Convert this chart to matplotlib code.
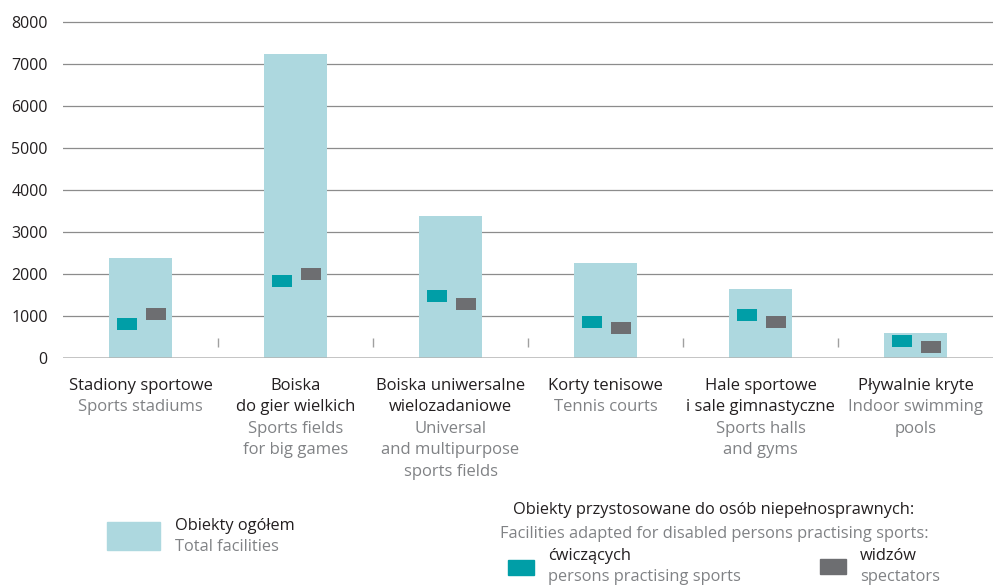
import matplotlib.pyplot as plt
from matplotlib.patches import Rectangle
import numpy as np

plt.rcParams['font.family'] = ['Open Sans', 'DejaVu Sans']

# dane
kategorie_pl = [['Stadiony sportowe'], ['Boiska', 'do gier wielkich'],
                ['Boiska uniwersalne', 'wielozadaniowe'], ['Korty tenisowe'],
                ['Hale sportowe', 'i sale gimnastyczne'], ['Pływalnie kryte']]
kategorie_en = [['Sports stadiums'], ['Sports fields', 'for big games'],
                ['Universal', 'and multipurpose', 'sports fields'], ['Tennis courts'],
                ['Sports halls', 'and gyms'], ['Indoor swimming', 'pools']]
ogolem = [2395, 7250, 3390, 2270, 1650, 600]
cwiczacych = [820, 1840, 1480, 860, 1030, 410]
widzow = [1050, 2010, 1290, 720, 860, 270]
y_ticks = [0, 1000, 2000, 3000, 4000, 5000, 6000, 7000, 8000]

c_jasny = '#add8df'
c_morski = '#009ea7'
c_szary = '#6d6e71'
c_tekst = '#231f20'
c_en = '#808285'

fig = plt.figure(figsize=(9.97, 5.86), dpi=100)
ax = fig.add_axes([63 / 997, 1 - 358.3 / 586, 930 / 997, (358.3 - 20) / 586])

x = np.arange(len(ogolem))
ax.bar(x, ogolem, width=0.406, color=c_jasny, zorder=2)
h = 286
ax.bar(x - 0.087, [h] * len(x), bottom=np.array(cwiczacych) - h / 2,
       width=0.129, color=c_morski, zorder=3)
ax.bar(x + 0.100, [h] * len(x), bottom=np.array(widzow) - h / 2,
       width=0.129, color=c_szary, zorder=3)

ax.set_xlim(-0.5, 5.5)
ax.set_ylim(0, 8055)
ax.set_yticks(y_ticks)
ax.set_yticklabels([str(v) for v in y_ticks], fontsize=11.5, color=c_tekst)
ax.tick_params(axis='y', length=0, pad=11)
ax.set_xticks([])
for s in ax.spines.values():
    s.set_visible(False)
for v in y_ticks[1:]:
    ax.axhline(v, color='#8c8c8c', lw=0.9, zorder=1)
ax.axhline(0, color='#b3b3b3', lw=1.8, zorder=4)
ax.vlines(x[:-1] + 0.5, 270, 480, color='#a0a0a0', lw=1, zorder=1)

# podpisy kategorii
for i in range(len(x)):
    linie = [(t, c_tekst) for t in kategorie_pl[i]] + [(t, c_en) for t in kategorie_en[i]]
    for j, (t, c) in enumerate(linie):
        ax.annotate(t, xy=(x[i], 0), xytext=(0, -(27.5 + 21.5 * j) * 0.72),
                    textcoords='offset points', ha='center', va='center',
                    fontsize=12, color=c)

# legenda
fs = 11.8
fig.patches.append(Rectangle((107 / 997, 1 - 550 / 586), 53 / 997, 28 / 586,
                             transform=fig.transFigure, color=c_jasny))
fig.text(175 / 997, 1 - 526 / 586, 'Obiekty ogółem', fontsize=fs, color=c_tekst, va='center')
fig.text(175 / 997, 1 - 547 / 586, 'Total facilities', fontsize=fs, color=c_en, va='center')

fig.text(714 / 997, 1 - 510 / 586, 'Obiekty przystosowane do osób niepełnosprawnych:',
         fontsize=fs, color=c_tekst, va='center', ha='center')
fig.text(714 / 997, 1 - 534 / 586, 'Facilities adapted for disabled persons practising sports:',
         fontsize=fs, color=c_en, va='center', ha='center')

fig.patches.append(Rectangle((508 / 997, 1 - 575 / 586), 26 / 997, 15 / 586,
                             transform=fig.transFigure, color=c_morski))
fig.text(548 / 997, 1 - 556 / 586, 'ćwiczących', fontsize=fs, color=c_tekst, va='center')
fig.text(548 / 997, 1 - 577 / 586, 'persons practising sports', fontsize=fs, color=c_en, va='center')

fig.patches.append(Rectangle((820 / 997, 1 - 574 / 586), 26 / 997, 15 / 586,
                             transform=fig.transFigure, color=c_szary))
fig.text(860 / 997, 1 - 556 / 586, 'widzów', fontsize=fs, color=c_tekst, va='center')
fig.text(860 / 997, 1 - 577 / 586, 'spectators', fontsize=fs, color=c_en, va='center')

fig.savefig('out.png', dpi=100)
